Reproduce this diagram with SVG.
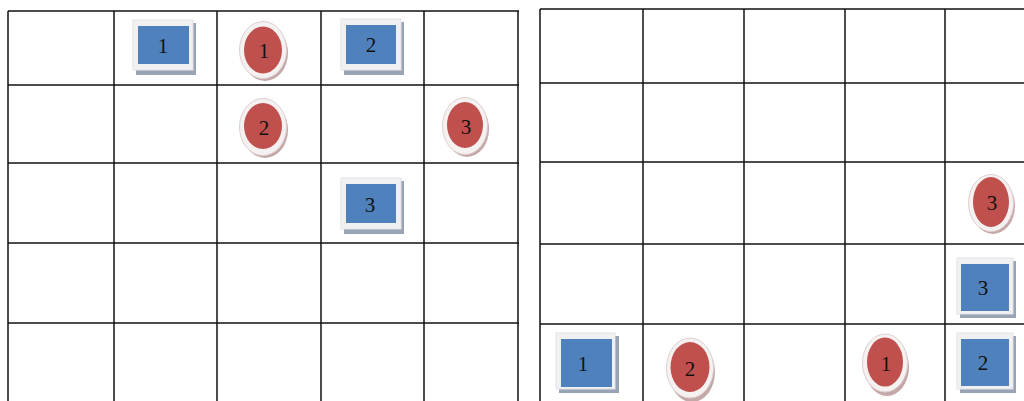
<svg xmlns="http://www.w3.org/2000/svg" width="1024" height="401" viewBox="0 0 1024 401">
<style>
.grid line{stroke:#111;stroke-width:1.5}
.frame{fill:#f1f1f3;stroke:#e2e2e6;stroke-width:1}
.sqsh{fill:#98a3b6}
.blue{fill:#4f81bd}
.rim{fill:#f6f1f1;stroke:#ddd0d0;stroke-width:1}
.cish{fill:#c4a8a8}
.red{fill:#c0504d}
text{font-family:"Liberation Serif","Times New Roman",serif;font-size:21px;fill:#111;text-anchor:middle}
</style>
<rect width="1024" height="401" fill="#fff"/>
<g id="grids" class="grid">
  <line x1="8" y1="11" x2="519" y2="11"/>
  <line x1="8" y1="85" x2="519" y2="85"/>
  <line x1="8" y1="163" x2="519" y2="163"/>
  <line x1="8" y1="243" x2="519" y2="243"/>
  <line x1="8" y1="323" x2="519" y2="323"/>
  <line x1="8" y1="11" x2="8" y2="401"/>
  <line x1="114" y1="11" x2="114" y2="401"/>
  <line x1="217" y1="11" x2="217" y2="401"/>
  <line x1="321" y1="11" x2="321" y2="401"/>
  <line x1="424" y1="11" x2="424" y2="401"/>
  <line x1="518" y1="11" x2="518" y2="401"/>
  <line x1="540" y1="9" x2="1024" y2="9"/>
  <line x1="540" y1="83" x2="1024" y2="83"/>
  <line x1="540" y1="162" x2="1024" y2="162"/>
  <line x1="540" y1="244" x2="1024" y2="244"/>
  <line x1="540" y1="324" x2="1024" y2="324"/>
  <line x1="540" y1="9" x2="540" y2="401"/>
  <line x1="643" y1="9" x2="643" y2="401"/>
  <line x1="744" y1="9" x2="744" y2="401"/>
  <line x1="845" y1="9" x2="845" y2="401"/>
  <line x1="945" y1="9" x2="945" y2="401"/>
</g>

<g id="sqL1">
  <rect class="sqsh" x="136" y="23" width="60" height="52"/>
  <rect class="frame" x="133" y="20" width="60" height="50"/>
  <rect class="blue" x="138" y="26" width="51" height="38"/>
  <text x="163" y="53">1</text>
</g>
<g id="ciL1">
  <ellipse class="cish" cx="265" cy="53" rx="23" ry="28"/>
  <ellipse class="rim" cx="263" cy="50" rx="23.5" ry="28.5"/>
  <ellipse class="red" cx="263" cy="50" rx="19" ry="23.5"/>
  <text x="264" y="58">1</text>
</g>
<g id="sqL2">
  <rect class="sqsh" x="344" y="22" width="60" height="53"/>
  <rect class="frame" x="341" y="19" width="60" height="51"/>
  <rect class="blue" x="346" y="25" width="50" height="39"/>
  <text x="371" y="52">2</text>
</g>
<g id="ciL2">
  <ellipse class="cish" cx="265" cy="130" rx="23" ry="28"/>
  <ellipse class="rim" cx="263" cy="127" rx="23.5" ry="28.5"/>
  <ellipse class="red" cx="263" cy="126" rx="19" ry="23"/>
  <text x="264" y="135">2</text>
</g>
<g id="ciL3">
  <ellipse class="cish" cx="467" cy="129" rx="22" ry="28"/>
  <ellipse class="rim" cx="465" cy="126" rx="22.5" ry="28.5"/>
  <ellipse class="red" cx="465" cy="125" rx="18" ry="23"/>
  <text x="466" y="134">3</text>
</g>
<g id="sqL3">
  <rect class="sqsh" x="344" y="181" width="60" height="53"/>
  <rect class="frame" x="341" y="178" width="60" height="51"/>
  <rect class="blue" x="346" y="184" width="50" height="39"/>
  <text x="370" y="212">3</text>
</g>

<g id="ciR3">
  <ellipse class="cish" cx="993" cy="206" rx="22" ry="28"/>
  <ellipse class="rim" cx="991" cy="203" rx="22.5" ry="28.5"/>
  <ellipse class="red" cx="991" cy="202" rx="18" ry="25"/>
  <text x="992" y="210">3</text>
</g>
<g id="sqR3">
  <rect class="sqsh" x="960" y="261" width="56" height="57"/>
  <rect class="frame" x="957" y="258" width="56" height="56"/>
  <rect class="blue" x="961" y="264" width="48" height="47"/>
  <text x="983" y="295">3</text>
</g>
<g id="sqR2">
  <rect class="sqsh" x="960" y="336" width="56" height="57"/>
  <rect class="frame" x="957" y="333" width="56" height="56"/>
  <rect class="blue" x="961" y="339" width="48" height="47"/>
  <text x="983" y="370">2</text>
</g>
<g id="ciR1">
  <ellipse class="cish" cx="887" cy="367" rx="22" ry="29"/>
  <ellipse class="rim" cx="885" cy="363" rx="22.5" ry="29"/>
  <ellipse class="red" cx="885" cy="362" rx="18" ry="24.5"/>
  <text x="886" y="371">1</text>
</g>
<g id="sqR1">
  <rect class="sqsh" x="559" y="336" width="60" height="57"/>
  <rect class="frame" x="556" y="333" width="59" height="56"/>
  <rect class="blue" x="561" y="339" width="51" height="48"/>
  <text x="583" y="371">1</text>
</g>
<g id="ciR2">
  <ellipse class="cish" cx="692" cy="372" rx="23" ry="30"/>
  <ellipse class="rim" cx="690" cy="368" rx="23.5" ry="30"/>
  <ellipse class="red" cx="690" cy="367" rx="19.5" ry="25"/>
  <text x="690" y="376">2</text>
</g>
</svg>
